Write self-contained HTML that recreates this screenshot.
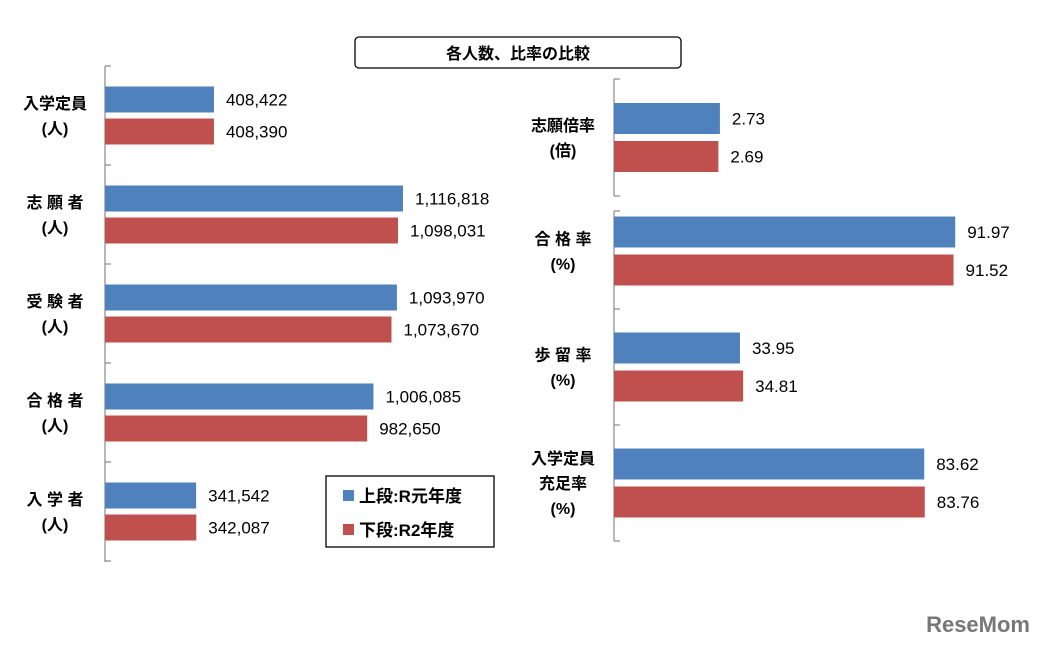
<!DOCTYPE html>
<html><head><meta charset="utf-8"><style>
body{margin:0;background:#fff;}
svg{display:block;font-family:"Liberation Sans","Noto Sans CJK JP",sans-serif;}
</style></head><body>
<svg id="c" width="1043" height="646" xmlns="http://www.w3.org/2000/svg">
<rect x="355" y="37" width="326" height="31" rx="4" fill="#fff" stroke="#000" stroke-width="1.3"/>
<text x="518" y="59" font-size="16" font-weight="bold" text-anchor="middle">各人数、比率の比較</text>
<g>
<rect x="326" y="476" width="168" height="71" fill="#fff" stroke="#000" stroke-width="1.3"/>
<rect x="343" y="490" width="11" height="11" fill="#4f81bd"/>
<text x="359" y="502" font-size="17" font-weight="bold">上段:R元年度</text>
<rect x="343" y="524" width="11" height="11" fill="#c0504d"/>
<text x="359" y="536" font-size="17" font-weight="bold">下段:R2年度</text>
</g>
<text x="1030" y="632" font-size="22" font-weight="bold" fill="#777" text-anchor="end">ReseMom</text>
</svg>
<script>
const leftCats=[["入学定員","(人)"],["志 願 者","(人)"],["受 験 者","(人)"],["合 格 者","(人)"],["入 学 者","(人)"]];
const leftR1=[408422,1116818,1093970,1006085,341542];
const leftR2=[408390,1098031,1073670,982650,342087];
const leftLabelsR1=["408,422","1,116,818","1,093,970","1,006,085","341,542"];
const leftLabelsR2=["408,390","1,098,031","1,073,670","982,650","342,087"];
const topCats=[["志願倍率","(倍)"]];
const topR1=[2.73];
const topR2=[2.69];
const rateCats=[["合 格 率","(%)"],["歩 留 率","(%)"],["入学定員","充足率","(%)"]];
const rateR1=[91.97,33.95,83.62];
const rateR2=[91.52,34.81,83.76];
const svg=document.getElementById('c');
const NS='http://www.w3.org/2000/svg';
function mk(t,a,txt){const e=document.createElementNS(NS,t);for(const k in a)e.setAttribute(k,a[k]);if(txt!==undefined)e.textContent=txt;svg.appendChild(e);return e;}
function panel(o){
  const aTop=o.axisTop!==undefined?o.axisTop:o.top;
  const ax=mk('line',{x1:o.x0,y1:aTop,x2:o.x0,y2:o.bottom,stroke:'#888','stroke-width':1.2});
  
  
  for(let i=0;i<=o.cats.length;i++){
    const ty=Math.min(Math.max(o.top+i*o.band,aTop),o.bottom);
    const t=mk('line',{x1:o.x0,y1:ty,x2:o.x0+6,y2:ty,stroke:'#888','stroke-width':1.2});
    
    
  }
  const xs=v=>o.x0+v*o.k;
  o.cats.forEach((c,i)=>{
    const cy=o.top+i*o.band+o.band/2;
    [[o.r1,'#4f81bd',-o.bh-o.gap/2,'r1',o.l1],[o.r2,'#c0504d',o.gap/2,'r2',o.l2]].forEach(s=>{
      const v=s[0][i];const y=cy+s[2];
      const r=mk('rect',{x:o.x0,y:y,width:xs(v)-o.x0,height:o.bh,fill:s[1]});
      
      
      const lbl=s[4]?s[4][i]:v.toFixed(2);
      const t=mk('text',{x:xs(v)+12,y:y+o.bh/2+6,'font-size':17},lbl);
      
      
    });
    const n=c.length;
    c.forEach((line,j)=>{
      const t=mk('text',{x:o.labelX,y:cy+(j-(n-1)/2)*25+6,'font-size':16,'font-weight':'bold','text-anchor':'middle'},line);
      
      
    });
  });
}
panel({name:'left',cats:leftCats,r1:leftR1,r2:leftR2,l1:leftLabelsR1,l2:leftLabelsR2,x0:105,top:66,band:99,bottom:562,k:298/1116818,bh:26,gap:6,labelX:55});
panel({name:'ratio',cats:topCats,r1:topR1,r2:topR2,x0:614,top:79,band:117,bottom:196,k:38.8,bh:31,gap:7,labelX:563});
panel({name:'rate',cats:rateCats,r1:rateR1,r2:rateR2,x0:614,top:193,axisTop:211,band:116,bottom:541,k:3.71,bh:31,gap:7,labelX:563});
</script>
</body></html>
